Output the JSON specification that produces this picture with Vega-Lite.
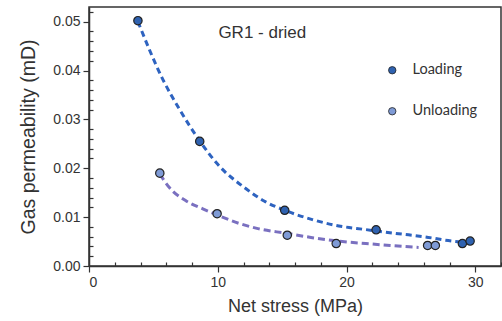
{
  "$schema": "https://vega.github.io/schema/vega-lite/v6.json",
  "width": 412,
  "height": 259,
  "autosize": {"type": "none"},
  "padding": {"left": 89, "top": 7, "right": 1, "bottom": 55},
  "config": {
    "view": {"stroke": "#333", "strokeWidth": 1.5},
    "axis": {
      "labelFont": "Liberation Sans",
      "titleFont": "Liberation Sans",
      "labelColor": "#333",
      "titleColor": "#333",
      "domainColor": "#333",
      "tickColor": "#333",
      "domainWidth": 1.5,
      "tickWidth": 1.2,
      "grid": false,
      "titleFontWeight": "normal"
    }
  },
  "datasets": {
    "points": [
      {"stress": 3.8, "perm": 0.0502, "series": "Loading"},
      {"stress": 8.6, "perm": 0.0255, "series": "Loading"},
      {"stress": 15.2, "perm": 0.0114, "series": "Loading"},
      {"stress": 22.3, "perm": 0.0074, "series": "Loading"},
      {"stress": 29.0, "perm": 0.0046, "series": "Loading"},
      {"stress": 29.6, "perm": 0.0051, "series": "Loading"},
      {"stress": 5.5, "perm": 0.019, "series": "Unloading"},
      {"stress": 9.95, "perm": 0.0107, "series": "Unloading"},
      {"stress": 15.4, "perm": 0.0063, "series": "Unloading"},
      {"stress": 19.2, "perm": 0.0046, "series": "Unloading"},
      {"stress": 26.3, "perm": 0.0042, "series": "Unloading"},
      {"stress": 26.9, "perm": 0.0042, "series": "Unloading"}
    ],
    "curves": [
      {"stress": 3.8, "perm": 0.0500, "fit": "Loading"},
      {"stress": 5.75, "perm": 0.0381, "fit": "Loading"},
      {"stress": 7.04, "perm": 0.0320, "fit": "Loading"},
      {"stress": 8.6, "perm": 0.0256, "fit": "Loading"},
      {"stress": 10.0, "perm": 0.0208, "fit": "Loading"},
      {"stress": 12.2, "perm": 0.0158, "fit": "Loading"},
      {"stress": 13.6, "perm": 0.0133, "fit": "Loading"},
      {"stress": 15.2, "perm": 0.0114, "fit": "Loading"},
      {"stress": 17.35, "perm": 0.0095, "fit": "Loading"},
      {"stress": 19.4, "perm": 0.0082, "fit": "Loading"},
      {"stress": 21.35, "perm": 0.0075, "fit": "Loading"},
      {"stress": 24.05, "perm": 0.0066, "fit": "Loading"},
      {"stress": 26.0, "perm": 0.0060, "fit": "Loading"},
      {"stress": 27.9, "perm": 0.0052, "fit": "Loading"},
      {"stress": 29.3, "perm": 0.0048, "fit": "Loading"},
      {"stress": 5.5, "perm": 0.0188, "fit": "Unloading"},
      {"stress": 6.26, "perm": 0.0160, "fit": "Unloading"},
      {"stress": 7.55, "perm": 0.0133, "fit": "Unloading"},
      {"stress": 8.84, "perm": 0.0117, "fit": "Unloading"},
      {"stress": 10.0, "perm": 0.0104, "fit": "Unloading"},
      {"stress": 11.68, "perm": 0.0087, "fit": "Unloading"},
      {"stress": 13.2, "perm": 0.0076, "fit": "Unloading"},
      {"stress": 15.3, "perm": 0.0067, "fit": "Unloading"},
      {"stress": 17.35, "perm": 0.0058, "fit": "Unloading"},
      {"stress": 19.67, "perm": 0.0050, "fit": "Unloading"},
      {"stress": 21.5, "perm": 0.0046, "fit": "Unloading"},
      {"stress": 23.4, "perm": 0.0042, "fit": "Unloading"},
      {"stress": 25.6, "perm": 0.0038, "fit": "Unloading"}
    ],
    "label": [
      {"stress": 10.05, "perm": 0.0477, "text": "GR1 - dried"}
    ]
  },
  "resolve": {"axis": {"x": "independent", "y": "independent"}},
  "layer": [
    {
      "data": {"name": "curves"},
      "transform": [{"filter": "datum.fit === 'Unloading'"}],
      "mark": {"type": "line", "strokeWidth": 3, "interpolate": "monotone", "strokeDash": [7, 4], "stroke": "#7A70C0"},
      "encoding": {
        "x": {
          "field": "stress", "type": "quantitative",
          "scale": {"domain": [0, 32], "nice": false, "zero": false},
          "axis": {"orient": "bottom", "values": [2, 4, 6, 8, 12, 14, 16, 18, 22, 24, 26, 28, 32], "labels": false, "domain": false, "tickSize": -4, "title": null}
        },
        "y": {
          "field": "perm", "type": "quantitative",
          "scale": {"domain": [0, 0.053], "nice": false},
          "axis": {"orient": "left", "values": [0.002, 0.004, 0.006, 0.008, 0.012, 0.014, 0.016, 0.018, 0.022, 0.024, 0.026, 0.028, 0.032, 0.034, 0.036, 0.038, 0.042, 0.044, 0.046, 0.048, 0.052], "labels": false, "domain": false, "tickSize": -4, "title": null}
        }
      }
    },
    {
      "data": {"name": "curves"},
      "transform": [{"filter": "datum.fit === 'Loading'"}],
      "mark": {"type": "line", "strokeWidth": 3, "interpolate": "monotone", "strokeDash": [6, 4], "stroke": "#2E63C0"},
      "encoding": {
        "x": {"field": "stress", "type": "quantitative", "axis": null},
        "y": {"field": "perm", "type": "quantitative", "axis": null}
      }
    },
    {
      "data": {"name": "points"},
      "mark": {"type": "circle", "size": 70, "stroke": "#222", "strokeWidth": 1.2, "opacity": 1},
      "encoding": {
        "x": {
          "field": "stress", "type": "quantitative",
          "axis": {"orient": "bottom", "values": [0, 10, 20, 30], "tickSize": 6, "labelFontSize": 14, "labelPadding": 3, "title": "Net stress (MPa)", "titleFontSize": 18, "titlePadding": 8}
        },
        "y": {
          "field": "perm", "type": "quantitative",
          "axis": {"orient": "left", "values": [0, 0.01, 0.02, 0.03, 0.04, 0.05], "format": ".2f", "tickSize": 6, "labelFontSize": 14, "labelPadding": 3, "title": "Gas permeability (mD)", "titleFontSize": 19.5, "titlePadding": 14}
        },
        "fill": {
          "field": "series", "type": "nominal",
          "scale": {"domain": ["Loading", "Unloading"], "range": ["#2F62B0", "#7F9BD6"]},
          "legend": {
            "orient": "none", "legendX": 296, "legendY": 56, "title": null,
            "padding": 0, "symbolType": "circle", "symbolSize": 55,
            "symbolStrokeColor": "#222", "symbolStrokeWidth": 0.8,
            "labelFont": "Lato", "labelFontSize": 14.5, "labelColor": "#333",
            "labelOffset": 13, "rowPadding": 26
          }
        }
      }
    },
    {
      "data": {"name": "label"},
      "mark": {"type": "text", "align": "left", "baseline": "middle", "font": "Liberation Sans", "fontSize": 17, "color": "#333"},
      "encoding": {
        "x": {"field": "stress", "type": "quantitative", "axis": null},
        "y": {"field": "perm", "type": "quantitative", "axis": null},
        "text": {"field": "text"}
      }
    }
  ]
}
